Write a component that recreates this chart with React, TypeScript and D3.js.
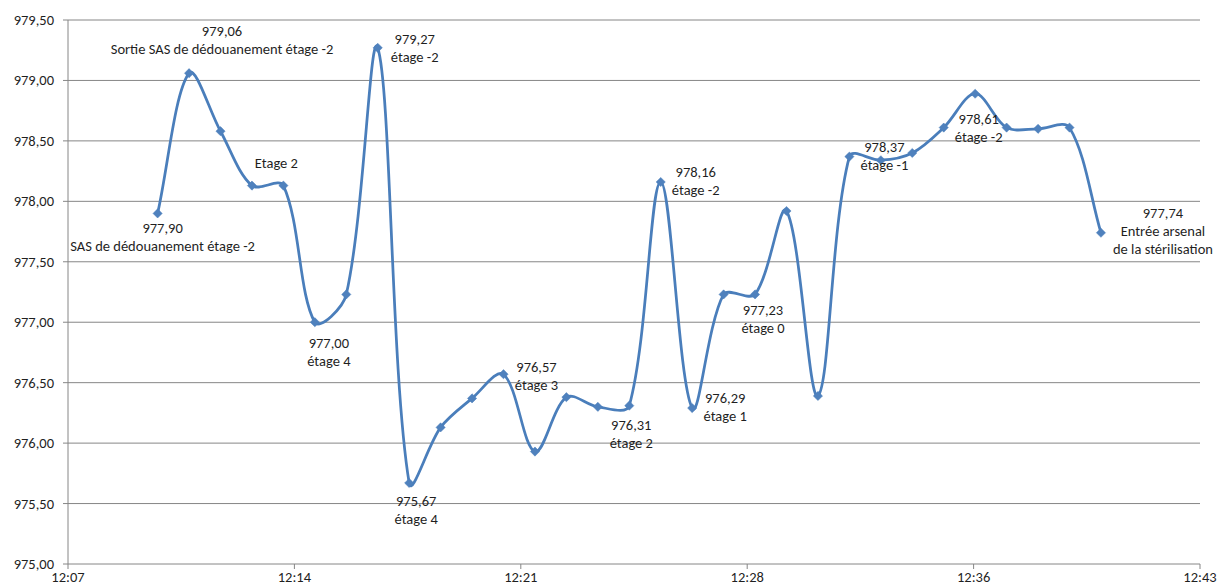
import React from "react";
import * as d3 from "d3";

// ---- data ----
const times: string[] = [
  "12:10", "12:11", "12:12", "12:13", "12:14", "12:15", "12:16", "12:17", "12:18", "12:19",
  "12:20", "12:21", "12:22", "12:23", "12:24", "12:25", "12:26", "12:27", "12:28", "12:29",
  "12:30", "12:31", "12:32", "12:33", "12:34", "12:35", "12:36", "12:37", "12:38", "12:39",
  "12:40",
];
const pressures: number[] = [
  977.9, 979.06, 978.58, 978.13, 978.13, 977.0, 977.23, 979.27, 975.67, 976.13,
  976.37, 976.57, 975.93, 976.38, 976.3, 976.31, 978.16, 976.29, 977.23, 977.23,
  977.92, 976.39, 978.37, 978.34, 978.4, 978.61, 978.89, 978.61, 978.6, 978.61,
  977.74,
];
const yTicks: number[] = [975, 975.5, 976, 976.5, 977, 977.5, 978, 978.5, 979, 979.5];
const xTickLabels: string[] = ["12:07", "12:14", "12:21", "12:28", "12:36", "12:43"];

// annotation: point index, show value?, extra text lines
const annotationIndex: number[] = [0, 1, 4, 5, 7, 8, 11, 15, 16, 17, 19, 22, 25, 30];
const annotationShowValue: boolean[] = [true, true, false, true, true, true, true, true, true, true, true, true, true, true];
const annotationText: string[][] = [
  ["SAS de dédouanement étage -2"],
  ["Sortie SAS de dédouanement étage -2"],
  ["Etage 2"],
  ["étage 4"],
  ["étage -2"],
  ["étage 4"],
  ["étage 3"],
  ["étage 2"],
  ["étage -2"],
  ["étage 1"],
  ["étage 0"],
  ["étage -1"],
  ["étage -2"],
  ["Entrée arsenal", "de la stérilisation"],
];

// ---- layout (not data) ----
const W = 1220;
const H = 587;
const M = { left: 68, right: 1200, top: 20, bottom: 564 };
const X_START = 7.15; // minutes after 12:00 at axis start
const X_STEP = 7.2;
const annotationOffsets: [number, number][] = [
  [5, 15], [33, -42], [-7, -23], [14, 21], [37, -9], [7, 18], [33, -7],
  [2, 19], [35, -10], [33, -10], [8, 16], [35, -10], [35, -9], [62, -20],
];
const LINE_H = 18;
const FS = 14.5;
const FONT = "Carlito, 'Liberation Sans Narrow', 'Liberation Sans', Arial, sans-serif";

const toMin = (t: string) => {
  const [h, m] = t.split(":").map(Number);
  return (h - 12) * 60 + m;
};
const fmt = (v: number) => d3.format(".2f")(v).replace(".", ",");

// Excel-like smoothing: Bezier with chord-length weighted tangents
function smoothPath(p: [number, number][]) {
  const path = d3.path();
  const n = p.length;
  const dist = (a: [number, number], b: [number, number]) => Math.hypot(b[0] - a[0], b[1] - a[1]);
  path.moveTo(p[0][0], p[0][1]);
  for (let i = 0; i < n - 1; i++) {
    const p0 = p[Math.max(0, i - 1)];
    const p1 = p[i];
    const p2 = p[i + 1];
    const p3 = p[Math.min(n - 1, i + 2)];
    const d01 = dist(p0, p1), d12 = dist(p1, p2), d23 = dist(p2, p3);
    const f1 = d01 + d12 > 0 ? d12 / (d01 + d12) / 3 : 0;
    const f2 = d12 + d23 > 0 ? d12 / (d12 + d23) / 3 : 0;
    const c1x = p1[0] + (p2[0] - p0[0]) * f1;
    const c1y = p1[1] + (p2[1] - p0[1]) * f1;
    const c2x = p2[0] - (p3[0] - p1[0]) * f2;
    const c2y = p2[1] - (p3[1] - p1[1]) * f2;
    path.bezierCurveTo(c1x, c1y, c2x, c2y, p2[0], p2[1]);
  }
  return path.toString();
}

export default function App() {
  const x = d3.scaleLinear().domain([X_START, X_START + X_STEP * 5]).range([M.left, M.right]);
  const y = d3.scaleLinear().domain([975, 979.5]).range([M.bottom, M.top]);
  const xTickVals = xTickLabels.map((_, i) => X_START + i * X_STEP);

  const pts: [number, number][] = times.map((t, i) => [x(toMin(t)), y(pressures[i])]);
  const line = smoothPath(pts);
  const r = 4.6;
  const diamond = `M0,${-r}L${r},0L0,${r}L${-r},0Z`;

  const gridColor = "#868686";
  const textColor = "#1f1f1f";

  return (
    <svg width={W} height={H} style={{ position: "absolute", left: 0, top: 0, background: "#fff" }}
      fontFamily={FONT}>
      <rect x={0} y={0} width={W} height={H} fill="#fff" />
      {yTicks.map((v) => (
        <g key={v}>
          <line x1={M.left - 5} x2={M.right} y1={y(v)} y2={y(v)} stroke={gridColor} strokeWidth={1} />
          <text x={54} y={y(v)} textAnchor="end" dominantBaseline="central" fontSize={FS} fill={textColor}>
            {fmt(v)}
          </text>
        </g>
      ))}
      <line x1={M.left} x2={M.left} y1={M.top} y2={M.bottom} stroke={gridColor} strokeWidth={1} />
      {xTickVals.map((v, i) => (
        <g key={i}>
          <line x1={x(v)} x2={x(v)} y1={M.bottom} y2={M.bottom + 5} stroke={gridColor} strokeWidth={1} />
          <text x={Math.min(x(v), W - 19)} y={577} textAnchor="middle" dominantBaseline="central" fontSize={FS} fill={textColor}>
            {xTickLabels[i]}
          </text>
        </g>
      ))}
      <path d={line} fill="none" stroke="#4A7EBB" strokeWidth={2.75} strokeLinejoin="round" />
      {pts.map(([px, py], i) => (
        <path key={i} d={diamond} transform={`translate(${px},${py})`} fill="#4F81BD" stroke="#4A7EBB" strokeWidth={0.5} />
      ))}
      {annotationIndex.map((idx, k) => {
        const [px, py] = pts[idx];
        const [dx, dy] = annotationOffsets[k];
        const lines = (annotationShowValue[k] ? [fmt(pressures[idx])] : []).concat(annotationText[k]);
        return (
          <text key={k} textAnchor="middle" dominantBaseline="central" fontSize={FS} fill={textColor}>
            {lines.map((s, j) => (
              <tspan key={j} x={px + dx} y={py + dy + j * LINE_H}>{s}</tspan>
            ))}
          </text>
        );
      })}
    </svg>
  );
}
